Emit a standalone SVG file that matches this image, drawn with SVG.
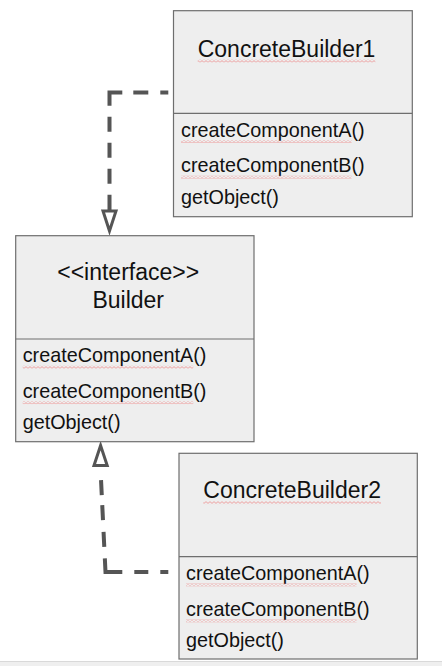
<svg xmlns="http://www.w3.org/2000/svg" width="442" height="666" viewBox="0 0 442 666">
  <style>
    .box { fill: #eeeeee; stroke: #6e6e6e; stroke-width: 1.2; }
    .div { stroke: #6e6e6e; stroke-width: 1.2; fill: none; }
    .title { font-family: "Liberation Sans", Arial, sans-serif; font-size: 23px; fill: #111; }
    .meth { font-family: "Liberation Sans", Arial, sans-serif; font-size: 19.8px; fill: #111; }
    .conn { fill: none; stroke: #555555; stroke-width: 4; stroke-linejoin: miter; stroke-linecap: butt; }
    .head { fill: #ffffff; stroke: #555555; stroke-width: 3; stroke-linejoin: miter; }
    .sq { fill: url(#squig); }
  </style>
  <defs>
    <pattern id="squig" patternUnits="userSpaceOnUse" width="4" height="3">
      <path d="M0 2.4 L2 0.6 L4 2.4" fill="none" stroke="#ee8a8a" stroke-width="0.8"/>
    </pattern>
  </defs>
  <rect x="0" y="0" width="442" height="666" fill="#ffffff"/>
  <rect x="0" y="661" width="442" height="5" fill="#efefef"/>
  <line x1="0" y1="661.5" x2="442" y2="661.5" stroke="#d9d9d9" stroke-width="1"/>

  <g id="connectors">
    <g id="cb1-to-builder">
      <path class="conn" d="M168.3 92.5 H109.5 V212" stroke-dasharray="8 12 15 11 26 11 15 11 15 11 15 11 20"/>
      <path class="head" d="M109.5 231 L103 211 L116 211 Z"/>
    </g>
    <g id="cb2-to-builder">
      <path class="conn" d="M168.3 572 H105.5 L100.4 467" stroke-dasharray="8 12 14 12 30.5 11.5 15 11.7 15 10 15 20"/>
      <path class="head" d="M100.6 445.5 L94 465.5 L107.2 465.5 Z"/>
    </g>
  </g>

  <g id="ConcreteBuilder1">
    <rect class="box" x="173.5" y="10.7" width="238.8" height="206"/>
    <line class="div" x1="173.5" y1="113.3" x2="412.3" y2="113.3"/>
    <text class="title" x="197.7" y="56.7">ConcreteBuilder1</text>
    <rect class="sq" x="197.7" y="59.5" width="177.7" height="3"/>
    <text class="meth" x="181" y="136.6">createComponentA()</text>
    <rect class="sq" x="181" y="140" width="170.6" height="3"/>
    <text class="meth" x="181" y="172.3">createComponentB()</text>
    <rect class="sq" x="181" y="175.7" width="170.6" height="3"/>
    <text class="meth" x="181" y="204">getObject()</text>
  </g>

  <g id="Builder">
    <rect class="box" x="15.7" y="235.7" width="238.3" height="206"/>
    <line class="div" x1="15.7" y1="339" x2="254" y2="339"/>
    <text class="title" x="128.2" y="280" text-anchor="middle">&lt;&lt;interface&gt;&gt;</text>
    <text class="title" x="128.2" y="308.3" text-anchor="middle">Builder</text>
    <text class="meth" x="22.7" y="362.3">createComponentA()</text>
    <rect class="sq" x="22.7" y="365.7" width="170.6" height="3"/>
    <text class="meth" x="22.7" y="397.7">createComponentB()</text>
    <rect class="sq" x="22.7" y="401.1" width="170.6" height="3"/>
    <text class="meth" x="22.7" y="429">getObject()</text>
  </g>

  <g id="ConcreteBuilder2">
    <rect class="box" x="179" y="453.3" width="238.3" height="205.7"/>
    <line class="div" x1="179" y1="556.7" x2="417.3" y2="556.7"/>
    <text class="title" x="203.3" y="498.3">ConcreteBuilder2</text>
    <rect class="sq" x="203.3" y="501.1" width="177.7" height="3"/>
    <text class="meth" x="186" y="580">createComponentA()</text>
    <rect class="sq" x="186" y="583.4" width="170.6" height="3"/>
    <text class="meth" x="186" y="616">createComponentB()</text>
    <rect class="sq" x="186" y="619.4" width="170.6" height="3"/>
    <text class="meth" x="186" y="646.7">getObject()</text>
  </g>
</svg>
